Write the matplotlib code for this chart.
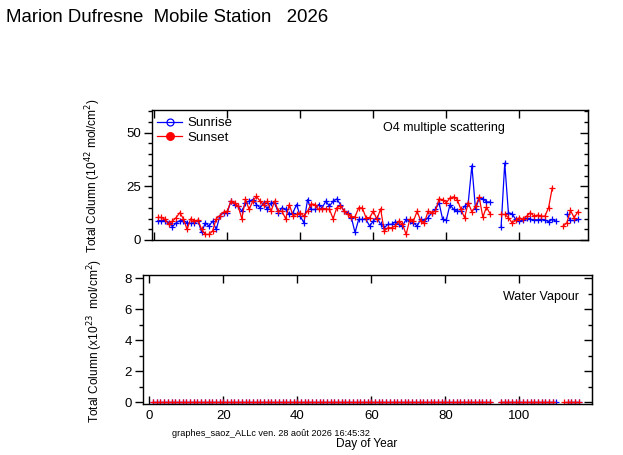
import numpy as np
import matplotlib
matplotlib.use("Agg")
import matplotlib.pyplot as plt
from matplotlib.lines import Line2D
from matplotlib.ticker import MultipleLocator

plt.rcParams['font.family'] = ['Liberation Sans', 'DejaVu Sans']

nan = np.nan
days = np.arange(1, 117)

# O4 total column, sunrise (blue), days 1..116
o4_sunrise = [
    9.0, 9.0, 9.0, 8.0, 6.2, 8.0, 9.0, 9.0, 8.0, 7.7,
    8.0, 9.0, 3.5, 8.0, 6.5, 8.8, 4.9, 11.4, 12.7, 12.7,
    18.0, 16.5, 15.7, 13.4, 17.2, 18.1, 18.8, 16.5, 15.0, 17.3,
    14.2, 17.3, 17.3, 12.7, 15.0, 14.2, 11.9, 12.7, 16.5, 11.1,
    8.0, 18.8, 14.2, 14.2, 16.5, 15.0, 18.1, 15.7, 18.1, 19.1,
    16.5, 13.4, 12.7, 10.4, 3.5, 9.6, 9.6, 9.6, 6.5, 8.8,
    10.4, 7.3, 5.7, 7.3, 7.3, 8.4, 7.3, 6.5, 9.6, 8.8,
    8.0, 6.5, 9.6, 8.8, 10.4, 12.7, 14.2, 17.3, 9.6, 9.3,
    16.5, 14.2, 13.4, 13.4, 15.7, 17.3, 34.6, 14.2, 19.6, 19.3,
    17.7, 17.7, nan, nan, 6.0, 35.8, 12.7, 12.2, 9.6, 8.8,
    9.1, 10.1, 9.6, 9.4, 9.4, 9.6, 9.4, 8.5, 9.6, 8.8,
    nan, nan, 11.9, 9.1, 9.1, 9.6,
]

# O4 total column, sunset (red), days 1..116
o4_sunset = [
    10.5, 10.5, 9.6, 7.4, 8.8, 10.4, 12.7, 9.9, 4.9, 9.9,
    8.8, 9.3, 4.9, 2.6, 2.6, 4.2, 9.9, 11.4, 13.0, 13.4,
    18.1, 17.3, 15.7, 9.9, 19.0, 14.2, 18.1, 20.3, 18.1, 16.5,
    18.1, 13.4, 18.1, 13.4, 13.4, 9.9, 16.5, 11.4, 11.9, 12.7,
    11.1, 13.4, 16.8, 16.5, 14.2, 14.5, 14.5, 14.2, 9.9, 15.0,
    16.0, 13.4, 11.9, 10.8, 10.8, 15.0, 14.9, 10.4, 10.4, 13.4,
    9.6, 14.5, 4.2, 5.7, 5.7, 6.5, 8.8, 7.3, 2.6, 9.6,
    8.8, 13.4, 8.8, 8.0, 13.4, 12.7, 13.4, 19.1, 18.8, 17.3,
    19.6, 20.1, 18.8, 14.2, 10.4, 17.3, 13.1, 15.7, 19.9, 10.7,
    15.3, 12.2, nan, nan, 11.9, 11.9, 10.4, 8.0, 9.1, 10.4,
    9.6, 11.1, 12.7, 11.1, 11.6, 11.1, 11.1, 15.0, 24.2, nan,
    nan, 6.5, 8.0, 13.8, 10.4, 13.1,
]

# water vapour total column: all zero where a measurement exists
h2o_sunrise = [0.0 if not np.isnan(v) else nan for v in o4_sunrise]
h2o_sunrise[109] = 0.0
h2o_sunset = [0.0 if not np.isnan(v) else nan for v in o4_sunset]

fig = plt.figure(figsize=(6.23, 4.55), dpi=100)
fig.text(6/623, 1-17/455, "Marion Dufresne  Mobile Station   2026", fontsize=13.4,
         ha='left', va='center')

ax1 = fig.add_axes([152/623, 1-240/455, 436/623, 130/455])
ax2 = fig.add_axes([143/623, 1-404/455, 449/623, 129/455])

blue = '#0000ff'
red = '#ff0000'

ax1.plot(days, o4_sunrise, color=blue, lw=0.9, marker='+', ms=4, mew=0.9)
ax1.plot(days, o4_sunset, color=red, lw=0.9, marker='+', ms=4, mew=0.9)
ax1.set_xlim(-0.6, 118.8)
ax1.set_ylim(0, 60.5)
ax1.yaxis.set_major_locator(MultipleLocator(25))
ax1.yaxis.set_minor_locator(MultipleLocator(5))
ax1.xaxis.set_major_locator(MultipleLocator(20))
ax1.tick_params(axis='x', which='both', direction='in', top=True, bottom=True,
                labelbottom=False, length=6, width=1)
ax1.tick_params(axis='y', which='major', direction='out', length=6, width=1,
                labelsize=9.5, pad=2)
ax1.tick_params(axis='y', which='minor', direction='out', length=3, width=1)
ax1.text(0.53, 0.86, "O4 multiple scattering", transform=ax1.transAxes,
         fontsize=9, ha='left', va='center')

# right side ticks (inside)
r1 = ax1.secondary_yaxis('right')
r1.yaxis.set_major_locator(MultipleLocator(25))
r1.yaxis.set_minor_locator(MultipleLocator(5))
r1.tick_params(axis='y', which='major', direction='in', length=6, width=1, labelright=False)
r1.tick_params(axis='y', which='minor', direction='in', length=3, width=1)

handles = [
    Line2D([], [], color=blue, lw=0.9, marker='o', ms=5, mfc='none', mew=0.9),
    Line2D([], [], color=red, lw=0.9, marker='o', ms=5.5, mfc=red, mew=0.9),
]
ax1.legend(handles, ["Sunrise", "Sunset"], loc='upper left', frameon=False,
           fontsize=9.5, handlelength=1.9, handletextpad=0.35, labelspacing=0.15,
           borderaxespad=0.0, bbox_to_anchor=(0.0, 0.985))

ax2.plot(days, h2o_sunrise, color=blue, lw=0.9, marker='+', ms=4, mew=0.9)
ax2.plot(days, h2o_sunset, color=red, lw=0.9, marker='+', ms=4, mew=0.9)
ax2.set_xlim(-1.7, 119.6)
ax2.set_ylim(-0.1, 8.2)
ax2.yaxis.set_major_locator(MultipleLocator(2))
ax2.yaxis.set_minor_locator(MultipleLocator(1))
ax2.xaxis.set_major_locator(MultipleLocator(20))
ax2.tick_params(axis='x', which='both', direction='in', top=True, bottom=True,
                length=6, width=1, labelsize=9.5, pad=4)
ax2.tick_params(axis='y', which='major', direction='out', length=6, width=1,
                labelsize=9.5, pad=2)
ax2.tick_params(axis='y', which='minor', direction='out', length=3, width=1)
ax2.text(0.97, 0.83, "Water Vapour", transform=ax2.transAxes,
         fontsize=9, ha='right', va='center')

r2 = ax2.secondary_yaxis('right')
r2.yaxis.set_major_locator(MultipleLocator(2))
r2.yaxis.set_minor_locator(MultipleLocator(1))
r2.tick_params(axis='y', which='major', direction='in', length=6, width=1, labelright=False)
r2.tick_params(axis='y', which='minor', direction='in', length=3, width=1)

for ax in (ax1, ax2):
    for s in ax.spines.values():
        s.set_linewidth(1)

# axis titles placed at the reference positions
fig.text(93/623, 1-176/455, "Total Column (10$^{42}$ mol/cm$^{2}$)", fontsize=8.6,
         rotation=90, ha='center', va='center')
fig.text(95/623, 1-341/455, "Total Column (x10$^{23}$  mol/cm$^{2}$)", fontsize=8.6,
         rotation=90, ha='center', va='center')
fig.text(367/623, 1-444.5/455, "Day of Year", fontsize=8.6, ha='center', va='center')
fig.text(172/623, 1-433.5/455, "graphes_saoz_ALLc ven. 28 août 2026 16:45:32",
         fontsize=6.6, ha='left', va='center')

fig.savefig("out.png", dpi=100)
